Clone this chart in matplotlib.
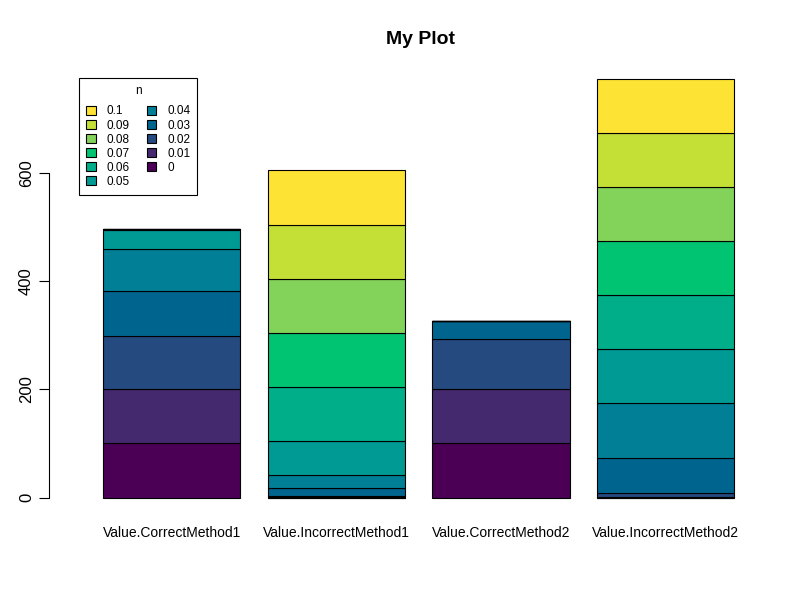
import numpy as np
import matplotlib.pyplot as plt

plt.rcParams['font.family'] = ['Liberation Sans', 'DejaVu Sans']

# categories on the x axis
methods = ["Value.CorrectMethod1", "Value.IncorrectMethod1",
           "Value.CorrectMethod2", "Value.IncorrectMethod2"]

# levels of n, stacked from bottom to top
levels = ["0", "0.01", "0.02", "0.03", "0.04", "0.05",
          "0.06", "0.07", "0.08", "0.09", "0.1"]

# counts per level for each method
correct1 = [100, 100, 98, 84, 77, 36, 1, 0, 0, 0, 0]
incorrect1 = [0, 1, 2, 15, 24, 63, 99, 100, 100, 100, 100]
correct2 = [100, 100, 92, 34, 0, 0, 0, 0, 0, 0, 0]
incorrect2 = [0, 1, 7, 66, 100, 100, 100, 100, 100, 100, 99]

colors = ["#4B0055", "#45296E", "#254A80", "#00658E", "#007F96", "#009A94",
          "#00AE8A", "#00C471", "#83D35A", "#C4E036", "#FDE333"]

counts = np.array([correct1, incorrect1, correct2, incorrect2]).T

fig = plt.figure(figsize=(8, 6), dpi=100)
ax = fig.add_axes([49.3 / 800, 1 - 514.4 / 600, (760.5 - 49.3) / 800, (514.4 - 62.2) / 600])

x = 0.7 + 1.2 * np.arange(len(methods))
bottom = np.zeros(len(methods))
bars = []
for i, lev in enumerate(levels):
    b = ax.bar(x, counts[i], width=1.0, bottom=bottom, color=colors[i],
               edgecolor="black", linewidth=0.8, label=lev)
    bars.append(b)
    bottom += counts[i]

ax.set_xlim(-0.192, 4.992)
ax.set_ylim(-30.9, 803.9)

for s in ["top", "right", "bottom"]:
    ax.spines[s].set_visible(False)
ax.spines["left"].set_bounds(0, 600)
ax.set_yticks([0, 200, 400, 600])
ax.tick_params(axis="y", labelsize=12, length=7, width=0.8, pad=4)
for lab in ax.get_yticklabels():
    lab.set_rotation(90)
    lab.set_va("center")
ax.set_xticks(x)
ax.set_xticklabels(methods, fontsize=10)
ax.tick_params(axis="x", length=0, pad=8)

fig.text(0.525, 1 - 40 / 600, "My Plot", ha="center", va="center",
         fontsize=14, fontweight="bold")

handles = bars[::-1]
labels = levels[::-1]
leg = ax.legend(handles, labels, title="n", ncol=2, loc="upper left",
                bbox_to_anchor=(79 / 800, 1 - 78 / 600),
                bbox_transform=fig.transFigure,
                fontsize=8.5, title_fontsize=8.5, frameon=True, fancybox=False,
                edgecolor="black", framealpha=1, handlelength=0.8,
                handleheight=0.8, handletextpad=0.9, columnspacing=1.5,
                labelspacing=0.18, borderpad=0.6, borderaxespad=0)
leg.get_frame().set_linewidth(0.8)
leg._legend_box.sep = 6

fig.savefig("out.png", dpi=100)
